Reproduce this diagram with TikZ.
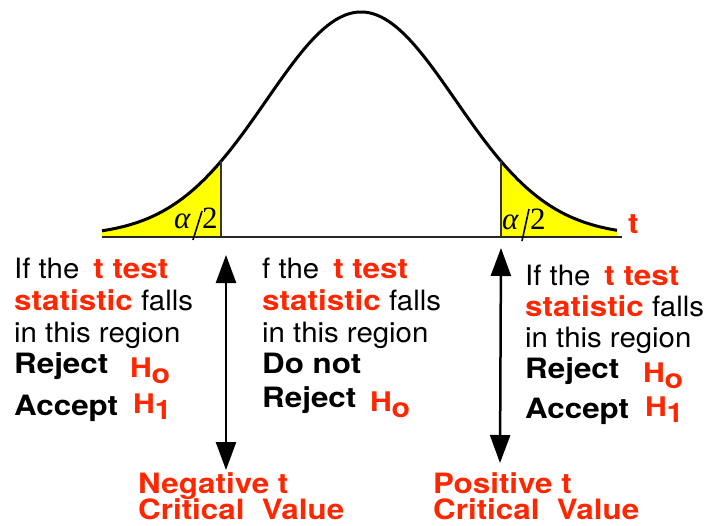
\documentclass[tikz,border=0pt]{standalone}
\usepackage{fontspec}
\setmainfont{TeX Gyre Heros}[FakeStretch=1.05, BoldFeatures={FakeStretch=1.12}]
\newfontfamily\serifal{Liberation Serif}
\usetikzlibrary{arrows.meta}
\definecolor{tred}{RGB}{255,38,0}
\definecolor{tyel}{RGB}{255,255,0}
\newcommand{\rb}[1]{{\color{tred}\bfseries #1}}
\tikzset{
  txt/.style={anchor=base west, inner sep=0pt, font=\fontsize{28}{32}\selectfont},
  btxt/.style={txt, font=\fontsize{28}{32}\selectfont\bfseries},
  hsym/.style={anchor=base west, inner sep=0pt, text=tred, font=\fontsize{27}{28}\selectfont\bfseries},
  crit/.style={anchor=base west, inner sep=0pt, text=tred, font=\fontsize{28}{32}\selectfont\bfseries},
  alab/.style={anchor=base west, inner sep=0pt, font=\fontsize{31}{32}\selectfont\serifal},
  dbl/.style={{Triangle[width=20pt,length=28pt]}-{Triangle[width=20pt,length=28pt]}, line width=2.5pt},
  curve/.style={line width=3pt, line join=round},
}
\newcommand{\Hsub}[1]{H\kern-0.5pt\raisebox{-6pt}{#1}}
\begin{document}
\begin{tikzpicture}[x=1pt,y=-1pt]
\useasboundingbox (0,0) rectangle (714,525);
% yellow tails
\fill[tyel] (102,237) -- plot[domain=102:221,samples=60] (\x,{236-224*exp(-0.5*((\x-361)/94.5)^2)}) -- (221,237) -- cycle;
\fill[tyel] (501,237) -- plot[domain=501:617,samples=60] (\x,{236-224*exp(-0.5*((\x-361)/94.5)^2)}) -- (617,237) -- cycle;
% curve
\draw[curve] plot[domain=102:617,samples=200] (\x,{236-224*exp(-0.5*((\x-361)/94.5)^2)});
% axis
\coordinate (axL) at (102,237);
\coordinate (axR) at (622,237);
\draw[line width=2pt, black!85] (axL) -- (axR);
% critical lines
\coordinate (cl0) at (221,237);
\coordinate (cl1) at (221,{236-224*exp(-0.5*((221-361)/94.5)^2)});
\coordinate (cr0) at (501,237);
\coordinate (cr1) at (501,{236-224*exp(-0.5*((501-361)/94.5)^2)});
\draw[line width=1.8pt, black!80] (cl0) -- (cl1);
\draw[line width=1.8pt, black!80] (cr0) -- (cr1);
% alpha/2 labels
\node[alab] (la) at (174,228) {\itshape α};
\node[alab] (l2) at (202,228) {2};
\coordinate (ls0) at (193,240);
\coordinate (ls1) at (202,211);
\draw[line width=1.6pt] (ls0) -- (ls1);
\node[alab] (ra) at (502,229) {\itshape α};
\node[alab] (r2) at (530,229) {2};
\coordinate (rs0) at (522,241);
\coordinate (rs1) at (529,209);
\draw[line width=1.6pt] (rs0) -- (rs1);
\node[crit] (tax) at (628,233) {t};
% left block
\node[txt] (L1) at (14,278) {If the\hspace{14pt}\rb{t test}};
\node[txt] (L2) at (14,310) {\rb{statistic} falls};
\node[txt] (L3) at (14,342) {in this region};
\node[btxt] (L4) at (14,373) {Reject};
\node[hsym] (L4h) at (130,377) {\Hsub{o}};
\node[btxt] (L5) at (14,415) {Accept};
\node[hsym] (L5h) at (133,413) {\Hsub{1}};
% middle block
\node[txt] (M1) at (262,278) {f the\hspace{14pt}\rb{t test}};
\node[txt] (M2) at (262,310) {\rb{statistic} falls};
\node[txt] (M3) at (262,342) {in this region};
\node[btxt] (M4) at (262,373) {Do not};
\node[btxt] (M5) at (262,407) {Reject};
\node[hsym] (M5h) at (370,411) {\Hsub{o}};
% right block
\node[txt] (R1) at (525,285) {If the\hspace{14pt}\rb{t test}};
\node[txt] (R2) at (525,316) {\rb{statistic} falls};
\node[txt] (R3) at (525,347) {in this region};
\node[btxt] (R4) at (525,378) {Reject};
\node[hsym] (R4h) at (643,382) {\Hsub{o}};
\node[btxt] (R5) at (525,418) {Accept};
\node[hsym] (R5h) at (645,416) {\Hsub{1}};
% arrows
\coordinate (aLt) at (226,255);
\coordinate (aLb) at (226,470);
\coordinate (aRt) at (501,248);
\coordinate (aRb) at (500,463);
\draw[dbl] (aLb) -- (aLt);
\draw[dbl] (aRb) -- (aRt);
% critical value labels
\node[crit] (N1) at (138,493) {Negative t};
\node[crit] (N2) at (138,519) {Critical\ \ Value};
\node[crit] (P1) at (433,493) {Positive t};
\node[crit] (P2) at (433,519) {Critical\ \ Value};
\end{tikzpicture}
\end{document}
